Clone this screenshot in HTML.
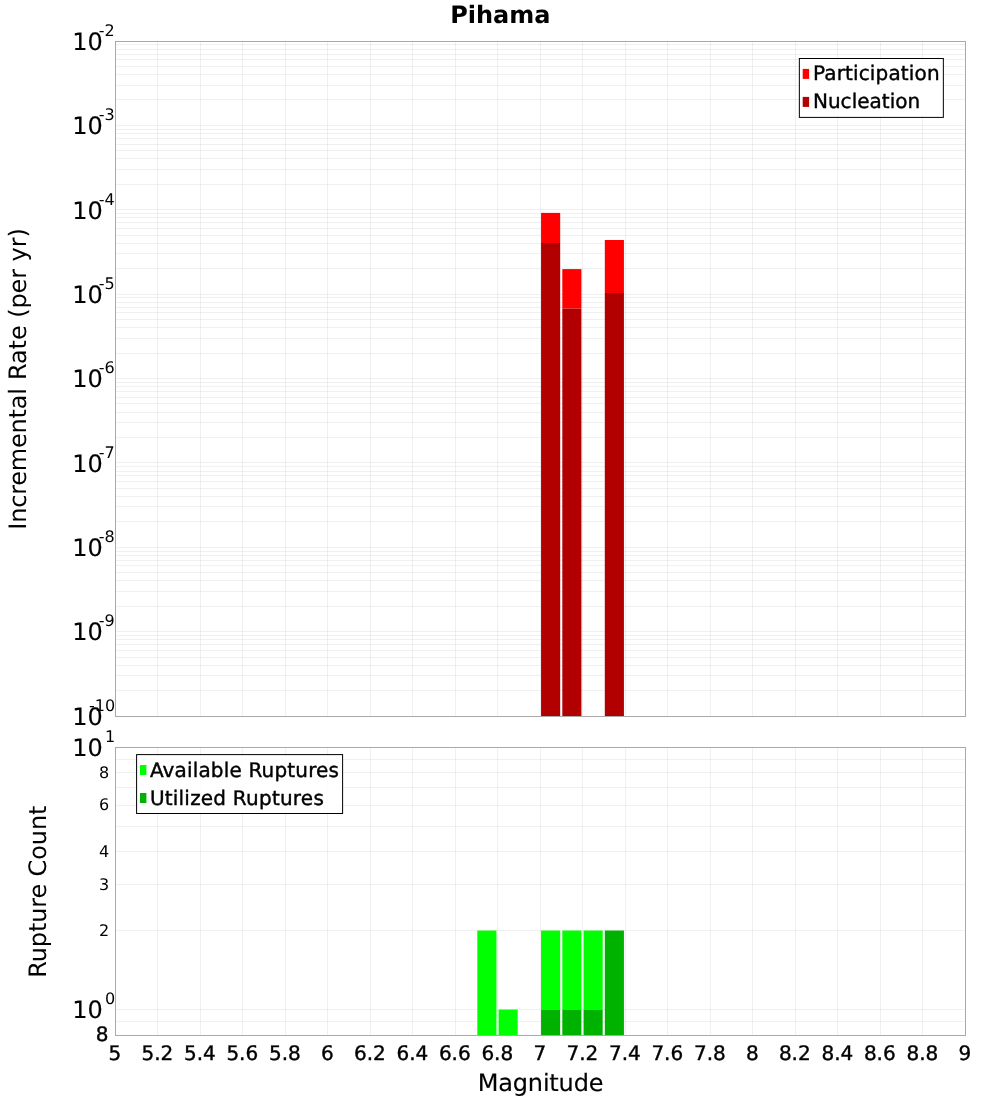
<!DOCTYPE html>
<html lang="en"><head><meta charset="utf-8"><title>Pihama</title>
<style>html,body{margin:0;padding:0;background:#fff}svg{display:block}text{font-family:"DejaVu Sans", "Liberation Sans", sans-serif;fill:#000;text-rendering:geometricPrecision}.a{font-size:24px}.b{font-size:20px;stroke:#000;stroke-width:0.4}.c{font-size:16px;stroke:#000;stroke-width:0}.d{font-size:24px;stroke:#000;stroke-width:0.15}.m{text-anchor:middle}.e{text-anchor:end}</style>
</head><body>
<svg width="1000" height="1100" viewBox="0 0 1000 1100">
<rect width="1000" height="1100" fill="#fff"/>
<g stroke="#000" stroke-opacity="0.06" stroke-width="1" fill="none" shape-rendering="crispEdges"><path d="M116 690.5 H965 M116 675.5 H965 M116 665.5 H965 M116 657.5 H965 M116 650.5 H965 M116 644.5 H965 M116 639.5 H965 M116 635.5 H965 M116 631.5 H965 M116 606.5 H965 M116 591.5 H965 M116 580.5 H965 M116 572.5 H965 M116 565.5 H965 M116 560.5 H965 M116 555.5 H965 M116 551.5 H965 M116 547.5 H965 M116 521.5 H965 M116 506.5 H965 M116 496.5 H965 M116 488.5 H965 M116 481.5 H965 M116 475.5 H965 M116 471.5 H965 M116 466.5 H965 M116 462.5 H965 M116 437.5 H965 M116 422.5 H965 M116 412.5 H965 M116 403.5 H965 M116 397.5 H965 M116 391.5 H965 M116 386.5 H965 M116 382.5 H965 M116 378.5 H965 M116 353.5 H965 M116 338.5 H965 M116 327.5 H965 M116 319.5 H965 M116 312.5 H965 M116 307.5 H965 M116 302.5 H965 M116 297.5 H965 M116 294.5 H965 M116 268.5 H965 M116 253.5 H965 M116 243.5 H965 M116 235.5 H965 M116 228.5 H965 M116 222.5 H965 M116 217.5 H965 M116 213.5 H965 M116 209.5 H965 M116 184.5 H965 M116 169.5 H965 M116 158.5 H965 M116 150.5 H965 M116 144.5 H965 M116 138.5 H965 M116 133.5 H965 M116 129.5 H965 M116 125.5 H965 M116 99.5 H965 M116 85.5 H965 M116 74.5 H965 M116 66.5 H965 M116 59.5 H965 M116 54.5 H965 M116 49.5 H965 M116 44.5 H965 M116 1021.5 H965 M116 1009.5 H965 M116 930.5 H965 M116 884.5 H965 M116 851.5 H965 M116 826.5 H965 M116 805.5 H965 M116 787.5 H965 M116 772.5 H965 M116 759.5 H965"/><path d="M157.5 42 V716 M157.5 748 V1035 M200.5 42 V716 M200.5 748 V1035 M242.5 42 V716 M242.5 748 V1035 M285.5 42 V716 M285.5 748 V1035 M327.5 42 V716 M327.5 748 V1035 M370.5 42 V716 M370.5 748 V1035 M412.5 42 V716 M412.5 748 V1035 M455.5 42 V716 M455.5 748 V1035 M497.5 42 V716 M497.5 748 V1035 M540.5 42 V716 M540.5 748 V1035 M582.5 42 V716 M582.5 748 V1035 M625.5 42 V716 M625.5 748 V1035 M667.5 42 V716 M667.5 748 V1035 M710.5 42 V716 M710.5 748 V1035 M752.5 42 V716 M752.5 748 V1035 M795.5 42 V716 M795.5 748 V1035 M837.5 42 V716 M837.5 748 V1035 M880.5 42 V716 M880.5 748 V1035 M922.5 42 V716 M922.5 748 V1035"/></g>
<rect x="541.06" y="212.90" width="19.12" height="30.10" fill="#ff0000"/>
<rect x="541.06" y="243.00" width="19.12" height="473.00" fill="#b20000"/>
<rect x="562.31" y="269.10" width="19.12" height="39.50" fill="#ff0000"/>
<rect x="562.31" y="308.60" width="19.12" height="407.40" fill="#b20000"/>
<rect x="604.81" y="240.00" width="19.12" height="53.00" fill="#ff0000"/>
<rect x="604.81" y="293.00" width="19.12" height="423.00" fill="#b20000"/>
<rect x="477.31" y="930.52" width="19.12" height="104.48" fill="#00ff00"/>
<rect x="498.56" y="1009.56" width="19.13" height="25.44" fill="#00ff00"/>
<rect x="541.06" y="930.52" width="19.12" height="79.04" fill="#00ff00"/>
<rect x="541.06" y="1009.56" width="19.12" height="25.44" fill="#00b200"/>
<rect x="562.31" y="930.52" width="19.12" height="79.04" fill="#00ff00"/>
<rect x="562.31" y="1009.56" width="19.12" height="25.44" fill="#00b200"/>
<rect x="583.56" y="930.52" width="19.12" height="79.04" fill="#00ff00"/>
<rect x="583.56" y="1009.56" width="19.12" height="25.44" fill="#00b200"/>
<rect x="604.81" y="930.52" width="19.12" height="104.48" fill="#00b200"/>
<path d="M115.5 41.5 H965.5 V716.5 H115.5 Z M115.5 747.5 H965.5 V1035.5 H115.5 Z" stroke="#a9a9a9" stroke-width="1" fill="none" shape-rendering="crispEdges"/>
<text x="500.3" y="23.2" class="a m" font-weight="bold">Pihama</text>
<text transform="translate(26,0) rotate(-90)" class="a"><tspan x="-529.7" textLength="141.7" lengthAdjust="spacing">Incremental</tspan> <tspan x="-380.1" textLength="151.9" lengthAdjust="spacing">Rate (per yr)</tspan></text>
<text transform="translate(46.4,891.7) rotate(-90)" class="a m" textLength="172.2" lengthAdjust="spacing">Rupture Count</text>
<text x="540.6" y="1091.3" class="d m" textLength="125.7" lengthAdjust="spacing">Magnitude</text>
<text x="114.8" y="1060" class="b m t">5</text>
<text x="157.4" y="1060" class="b m t">5.2</text>
<text x="199.9" y="1060" class="b m t">5.4</text>
<text x="242.3" y="1060" class="b m t">5.6</text>
<text x="284.9" y="1060" class="b m t">5.8</text>
<text x="327.4" y="1060" class="b m t">6</text>
<text x="369.9" y="1060" class="b m t">6.2</text>
<text x="412.4" y="1060" class="b m t">6.4</text>
<text x="454.8" y="1060" class="b m t">6.6</text>
<text x="497.3" y="1060" class="b m t">6.8</text>
<text x="539.9" y="1060" class="b m t">7</text>
<text x="582.4" y="1060" class="b m t">7.2</text>
<text x="624.9" y="1060" class="b m t">7.4</text>
<text x="667.3" y="1060" class="b m t">7.6</text>
<text x="709.9" y="1060" class="b m t">7.8</text>
<text x="752.4" y="1060" class="b m t">8</text>
<text x="794.8" y="1060" class="b m t">8.2</text>
<text x="837.4" y="1060" class="b m t">8.4</text>
<text x="879.8" y="1060" class="b m t">8.6</text>
<text x="922.4" y="1060" class="b m t">8.8</text>
<text x="964.9" y="1060" class="b m t">9</text>
<text x="72.3" y="724.8" class="d">10</text>
<text x="115.2" y="710.8" class="c e">-10</text>
<text x="72.3" y="640.4" class="d">10</text>
<text x="114.7" y="626.4" class="c e">-9</text>
<text x="72.3" y="556.0" class="d">10</text>
<text x="114.7" y="542.0" class="c e">-8</text>
<text x="72.3" y="471.7" class="d">10</text>
<text x="114.7" y="457.7" class="c e">-7</text>
<text x="72.3" y="387.3" class="d">10</text>
<text x="114.7" y="373.3" class="c e">-6</text>
<text x="72.3" y="302.9" class="d">10</text>
<text x="114.7" y="288.9" class="c e">-5</text>
<text x="72.3" y="218.6" class="d">10</text>
<text x="114.7" y="204.6" class="c e">-4</text>
<text x="72.3" y="134.2" class="d">10</text>
<text x="114.7" y="120.2" class="c e">-3</text>
<text x="72.3" y="49.8" class="d">10</text>
<text x="114.7" y="35.8" class="c e">-2</text>
<text x="72.3" y="755.8" class="d">10</text>
<text x="115.2" y="741.8" class="c e">1</text>
<text x="72.3" y="1018.4" class="d">10</text>
<text x="115.2" y="1004.4" class="c e">0</text>
<text x="109.2" y="777.6" class="c e">8</text>
<text x="109.2" y="810.4" class="c e">6</text>
<text x="109.2" y="856.7" class="c e">4</text>
<text x="109.2" y="889.5" class="c e">3</text>
<text x="109.2" y="935.7" class="c e">2</text>
<text x="108.4" y="1041.4" class="b e">8</text>
<rect x="799.35" y="58.50" width="144.00" height="58.90" fill="#fff" fill-opacity="0.85" stroke="#000" stroke-width="1"/>
<rect x="802.7" y="68.9" width="6.4" height="10" fill="#ff0000"/>
<text x="812.9" y="79.9" class="b" textLength="126.7" lengthAdjust="spacing">Participation</text>
<rect x="802.7" y="96.9" width="6.4" height="10" fill="#b20000"/>
<text x="812.9" y="107.8" class="b" textLength="107.4" lengthAdjust="spacing">Nucleation</text>
<rect x="136.60" y="754.60" width="206.00" height="58.90" fill="#fff" fill-opacity="0.85" stroke="#000" stroke-width="1"/>
<rect x="140.0" y="765.0" width="6.4" height="10" fill="#00ff00"/>
<text x="149.9" y="776.9" class="b" textLength="189.1" lengthAdjust="spacing">Available Ruptures</text>
<rect x="140.0" y="793.0" width="6.4" height="10" fill="#00b200"/>
<text x="149.9" y="804.8" class="b" textLength="173.9" lengthAdjust="spacing">Utilized Ruptures</text>
</svg></body></html>
